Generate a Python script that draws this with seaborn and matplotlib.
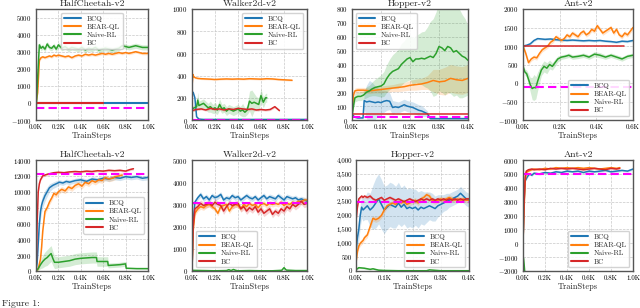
"""
Offline RL learning curves: BCQ / BEAR-QL / Naive-RL / BC on mujoco tasks
Run: python plot.py
"""
import numpy as np
import matplotlib
matplotlib.use("Agg")
import matplotlib.pyplot as plt
from matplotlib.ticker import FuncFormatter, MultipleLocator
import seaborn as sns

LABELS = ["BCQ", "BEAR-QL", "Naive-RL", "BC"]
COLORS = ["#1f77b4", "#ff7f0e", "#2ca02c", "#d62728"]

# ---------- top row: HalfCheetah-v2 ----------
hc1_x = [0, 15, 30, 45, 60, 80, 100, 120, 140, 160, 180, 200, 230, 260, 290, 320, 350, 380, 410, 440,
         470, 500, 530, 560, 590, 620, 650, 680, 710, 740, 770, 800, 830, 860, 890, 920, 950, 980, 1000]
hc1_naive = [-600, 1500, 3400, 3200, 3300, 3150, 3450, 3250, 3200, 3350, 3150, 3400, 3200, 3300, 3150, 3250,
             3200, 3150, 3250, 3100, 3200, 3150, 3250, 3100, 3150, 3200, 3150, 3100, 3150, 3200, 3350, 3300,
             3250, 3300, 3350, 3300, 3250, 3250, 3250]
hc1_bear = [0, 600, 2500, 2650, 2700, 2650, 2700, 2750, 2700, 2800, 2750, 2800, 2750, 2700, 2750, 2650, 2750,
            2800, 2750, 2850, 2800, 2850, 2800, 2850, 2900, 2850, 2900, 2850, 2900, 2950, 2900, 2950, 2900,
            2950, 3000, 2950, 2900, 2900, 2900]
hc1_bcq_x, hc1_bcq = [0, 1000], [0, 0]
hc1_bc_x, hc1_bc = [0, 600], [0, 0]
hc1_ref = -300

# ---------- top row: Walker2d-v2 ----------
wk1_bear_x = [0, 8, 15, 30, 50, 80, 120, 160, 200, 250, 300, 350, 400, 450, 500, 550, 600, 650, 700, 750, 800, 870]
wk1_bear = [300, 410, 390, 380, 375, 372, 370, 368, 365, 368, 370, 368, 370, 368, 372, 370, 368, 372, 370, 365,
            362, 358]
wk1_bcq_x = [0, 10, 25, 40, 60, 100, 1000]
wk1_bcq = [240, 250, 200, 30, 8, 5, 5]
wk1_naive_x = [0, 20, 40, 50, 60, 80, 100, 120, 140, 160, 180, 200, 220, 240, 260, 280, 300, 320, 340, 360,
               380, 400, 420, 440, 460, 480, 500, 520, 540, 560, 580, 600, 620, 640, 650]
wk1_naive = [100, 110, 120, 180, 130, 140, 150, 130, 110, 120, 100, 110, 90, 140, 100, 110, 80, 100, 90, 80,
             90, 100, 80, 90, 70, 90, 170, 150, 160, 150, 140, 220, 160, 200, 200]
wk1_naive_sd = [20, 30, 40, 70, 40, 40, 40, 40, 40, 50, 40, 50, 40, 50, 40, 40, 40, 40, 40, 40,
                40, 40, 40, 60, 40, 40, 90, 120, 80, 60, 60, 60, 50, 40, 40]
wk1_bc_x = [0, 40, 80, 120, 160, 200, 240, 280, 320, 360, 400, 440, 480, 520, 560, 600, 640, 680, 720, 760]
wk1_bc = [85, 95, 100, 90, 105, 95, 100, 90, 100, 95, 105, 100, 95, 100, 90, 95, 90, 95, 120, 85]
wk1_ref = 3

# ---------- top row: Hopper-v2 ----------
hp1_naive_x = [0, 5, 10, 20, 30, 40, 50, 60, 70, 80, 90, 100, 110, 120, 130, 140, 150, 160, 170, 180, 190,
               200, 210, 220, 230, 240, 250, 260, 270, 280, 290, 300, 310, 320, 330, 340, 350, 360, 370, 380,
               390, 400]
hp1_naive = [30, 100, 160, 170, 170, 180, 200, 210, 225, 235, 240, 245, 260, 300, 330, 350, 360, 370, 400, 420,
             440, 450, 420, 440, 440, 445, 440, 450, 460, 450, 480, 530, 520, 500, 530, 520, 490, 500, 480, 460,
             450, 430]
hp1_naive_sd = [10, 20, 30, 30, 30, 30, 40, 40, 50, 60, 70, 80, 90, 100, 110, 120, 130, 140, 150, 150,
                160, 160, 170, 170, 180, 190, 200, 220, 250, 280, 300, 320, 320, 320, 330, 330, 320, 320, 320, 300,
                280, 250]
hp1_bear_x = [0, 5, 10, 20, 40, 60, 80, 100, 120, 140, 160, 180, 200, 220, 240, 260, 280, 300, 320, 340, 360,
              380, 400]
hp1_bear = [30, 180, 210, 215, 215, 210, 215, 220, 225, 230, 235, 240, 250, 255, 260, 270, 285, 275, 280, 300,
            290, 285, 300]
hp1_bear_sd = [10, 20, 20, 20, 20, 20, 20, 25, 25, 25, 30, 30, 35, 40, 40, 50, 80, 90, 100, 100, 100, 100, 100]
hp1_bcq_x = [0, 10, 20, 30, 38, 42, 50, 60, 70, 80, 90, 100, 110, 120, 130, 140, 150, 160, 170, 180, 190, 200,
             210, 220, 230, 240, 250, 260, 270, 280, 400]
hp1_bcq = [40, 20, 15, 15, 15, 140, 130, 135, 130, 125, 130, 125, 135, 140, 135, 90, 95, 90, 100, 110, 100, 95,
           90, 80, 70, 65, 55, 45, 10, 10, 10]
hp1_bcq_sd = [5, 5, 5, 5, 5, 60, 120, 150, 140, 120, 100, 90, 80, 70, 60, 50, 40, 40, 40, 40, 40, 40,
              40, 40, 40, 40, 30, 20, 5, 5, 5]
hp1_bc_x, hp1_bc = [0, 400], [40, 40]
hp1_ref = 20

# ---------- top row: Ant-v2 ----------
an1_bcq_x = [0, 20, 40, 60, 80, 100, 120, 150, 180, 210, 240, 270, 300, 330, 360, 390, 420, 450, 480, 510,
             540, 570, 600]
an1_bcq = [1000, 1020, 1060, 1150, 1200, 1190, 1180, 1190, 1170, 1160, 1150, 1160, 1150, 1140, 1150, 1140,
           1150, 1130, 1120, 1100, 1130, 1120, 1150]
an1_bear_x = [0, 15, 30, 45, 60, 75, 90, 105, 120, 135, 150, 165, 180, 195, 210, 225, 240, 255, 270, 285, 300,
              315, 330, 345, 360, 375, 390, 405, 420, 435, 450, 465, 480, 495, 510, 525, 540, 555, 570, 585, 600]
an1_bear = [1000, 800, 550, 650, 700, 680, 800, 900, 950, 1000, 1100, 1150, 1250, 1200, 1150, 1200, 1300, 1250,
            1350, 1300, 1250, 1350, 1400, 1300, 1350, 1450, 1400, 1550, 1450, 1350, 1400, 1450, 1500, 1350,
            1450, 1300, 1250, 1350, 1300, 1400, 1500]
an1_naive_x = [0, 10, 20, 30, 40, 50, 60, 70, 80, 90, 100, 115, 130, 145, 160, 175, 190, 210, 230, 250, 270,
               300, 330, 360, 390, 420, 450, 480, 510, 540, 570, 600]
an1_naive = [450, 300, 250, 100, -50, -150, -120, -130, 50, 200, 350, 450, 400, 500, 450, 550, 650, 700, 720,
             750, 700, 720, 750, 700, 780, 750, 700, 750, 700, 650, 720, 750]
an1_naive_sd = [80, 80, 100, 150, 200, 300, 350, 300, 250, 200, 150, 150, 150, 120, 100, 100, 80, 60, 60, 60,
                60, 60, 60, 60, 70, 70, 60, 60, 60, 60, 60, 60]
an1_bc_x, an1_bc = [0, 550], [1000, 1000]
an1_ref = -100

# ---------- bottom row: HalfCheetah-v2 ----------
hc2_bc_x = [0, 5, 10, 20, 30, 40, 60, 80, 100, 130, 160, 200, 250, 300, 350, 400, 450, 500, 550, 600, 650,
            700, 750, 800, 840, 870]
hc2_bc = [0, 2000, 6000, 10000, 11000, 11500, 12000, 12100, 12200, 12300, 12400, 12450, 12400, 12500, 12550,
          12500, 12600, 12550, 12650, 12600, 12700, 12650, 12700, 12600, 12800, 12900]
hc2_bcq_x = [0, 10, 20, 30, 40, 50, 60, 80, 100, 120, 150, 180, 210, 240, 270, 300, 350, 400, 450, 500, 550,
             600, 650, 700, 750, 800, 850, 900, 950, 1000]
hc2_bcq = [0, 1000, 3500, 6000, 7500, 8300, 8800, 9500, 10000, 10500, 10800, 11000, 11200, 11100, 11300,
           11200, 11400, 11500, 11300, 11600, 11500, 11700, 11600, 11800, 11700, 11900, 11800, 11900, 11700, 11800]
hc2_bcq_sd = [0, 200, 500, 800, 900, 900, 800, 700, 600, 500, 400, 400, 300, 300, 300, 300, 300, 300, 300,
              300, 300, 300, 300, 300, 300, 300, 300, 300, 300, 300]
hc2_bear_x = [0, 20, 40, 50, 60, 80, 100, 120, 140, 160, 180, 200, 230, 260, 290, 320, 350, 380, 410, 440,
              470, 500, 530, 560, 590, 620, 650, 680, 710, 740, 770]
hc2_bear = [0, 300, 1500, 3000, 5000, 7500, 8000, 8700, 9200, 9800, 9600, 10000, 10300, 10100, 10600, 10400,
            10800, 11000, 10700, 11200, 11000, 11400, 11200, 11500, 11400, 11800, 11600, 11700, 11900, 12000,
            12100]
hc2_naive_x = [0, 20, 40, 60, 80, 100, 120, 135, 150, 165, 200, 250, 300, 350, 400, 450, 500, 540, 545, 600,
               640, 645, 700, 750, 800, 805, 900, 1000]
hc2_naive = [0, 300, 800, 1200, 1500, 1700, 2000, 2200, 1600, 1100, 1100, 1200, 1300, 1500, 1600, 1650, 1700,
             1700, 1200, 1200, 1200, 700, 750, 800, 900, 350, 300, 300]
hc2_naive_sd = [0, 200, 500, 800, 900, 1000, 1000, 1000, 900, 800, 700, 700, 700, 700, 700, 700, 700, 700,
                600, 600, 600, 300, 300, 300, 300, 50, 50, 50]
hc2_ref = 12200

# ---------- bottom row: Walker2d-v2 ----------
wk2_x = [0, 10, 25, 50, 75, 100, 125, 150, 175, 200, 225, 250, 275, 300, 325, 350, 375, 400, 425, 450, 475,
         500, 525, 550, 575, 600, 625, 650, 675, 700, 725, 750, 775, 800, 825, 850, 875, 900, 925, 950, 975, 1000]
wk2_bcq = [0, 2200, 3100, 3300, 3450, 3250, 3350, 3200, 3400, 3300, 3350, 3450, 3200, 3300, 3250, 3400, 3300,
           3350, 3200, 3300, 3400, 3300, 3250, 3350, 3200, 3300, 3400, 3250, 3350, 3300, 3250, 3400, 3300, 3200,
           3350, 3300, 3250, 3300, 3200, 3250, 3200, 3150]
wk2_bear = [0, 1800, 2600, 2800, 2900, 2850, 2950, 3000, 2900, 2800, 2600, 2900, 2950, 3000, 2700, 2900, 3000,
            2950, 2800, 3000, 2900, 3050, 2950, 3000, 2850, 3000, 3050, 2950, 3050, 3000, 3050, 3000, 3100, 2950,
            3050, 3000, 3100, 3050, 3150, 3100, 3200, 3200]
wk2_bc = [0, 2000, 2800, 2900, 3050, 2950, 3000, 3050, 2950, 3100, 3000, 2950, 2700, 2900, 3050, 2950, 3000,
          3050, 2800, 2900, 2700, 2850, 2750, 2900, 2650, 2800, 2600, 2700, 2800, 2550, 2700, 2600, 2800, 2700,
          2900, 2800, 3000, 2900, 3000, 3150, 3000, 3050]
wk2_naive_x = [0, 100, 200, 300, 320, 340, 360, 380, 400, 500, 600, 700, 780, 800, 820, 900, 1000]
wk2_naive = [30, 20, 10, 20, 60, 20, 70, 30, 10, 20, 10, 10, 30, 150, 40, 20, 20]
wk2_ref = 3050

# ---------- bottom row: Hopper-v2 ----------
hp2_x = [0, 5, 10, 15, 20, 25, 30, 40, 50, 60, 70, 80, 90, 100, 110, 120, 130, 140, 150, 160, 170, 180, 190,
         200, 210, 220, 230, 240, 250, 260, 270, 280, 290, 300, 310, 320, 330, 340, 350, 360, 370, 380, 390, 400]
hp2_bcq = [700, 1200, 1500, 2000, 2300, 2200, 2250, 2350, 2200, 2300, 2450, 2600, 2400, 2200, 2300, 2400, 2350,
           2300, 2450, 2300, 2400, 2250, 2300, 2250, 2300, 2200, 2300, 2250, 2300, 2350, 2300, 2250, 2350, 2400,
           2450, 2500, 2550, 2600, 2650, 2700, 2800, 2700, 2600, 2550]
hp2_bcq_sd = [300, 400, 400, 400, 400, 400, 400, 500, 600, 800, 900, 900, 900, 850, 800, 800, 800, 750, 750,
              700, 700, 700, 700, 700, 650, 650, 600, 600, 550, 500, 500, 450, 400, 350, 300, 300, 250, 250, 250,
              250, 250, 250, 250, 250]
hp2_bear = [300, 700, 900, 1000, 1050, 1100, 1200, 1300, 1600, 1900, 1850, 1900, 2000, 2200, 2350, 2400, 2450,
            2400, 2500, 2450, 2500, 2400, 2450, 2500, 2550, 2450, 2600, 2650, 2750, 2700, 2550, 2500, 2550, 2600,
            2550, 2600, 2650, 2600, 2550, 2600, 2550, 2600, 2550, 2550]
hp2_bc = [1800, 2300, 2600, 2650, 2700, 2650, 2700, 2650, 2700, 2600, 2550, 2600, 2650, 2550, 2600, 2650, 2600,
          2550, 2600, 2550, 2500, 2550, 2600, 2550, 2500, 2550, 2600, 2550, 2600, 2550, 2600, 2550, 2600, 2550,
          2600, 2550, 2600, 2550, 2600, 2550, 2600, 2550, 2600, 2600]
hp2_naive_x = [0, 10, 30, 50, 60, 80, 100, 150, 200, 250, 260, 300, 400]
hp2_naive = [50, 120, 100, 60, 80, 30, 20, 10, 10, 10, 40, 10, 10]
hp2_ref = 2500

# ---------- bottom row: Ant-v2 ----------
an2_bcq_x = [0, 10, 20, 40, 60, 80, 100, 150, 200, 250, 300, 350, 400, 450, 500, 550, 600, 650, 700, 750, 800,
             850, 900, 950, 1000]
an2_bcq = [0, 3000, 4500, 4800, 5000, 4900, 5050, 5000, 5100, 5050, 5150, 5100, 5200, 5150, 5200, 5100, 5200,
           5150, 5200, 5250, 5150, 5200, 5250, 5200, 5350]
an2_x = [0, 10, 20, 30, 50, 80, 100, 150, 200, 250, 300, 350, 400, 450, 500, 550, 600, 650, 700, 750, 800, 850, 880]
an2_bear = [0, 2500, 4500, 5100, 5200, 5300, 5350, 5300, 5400, 5350, 5450, 5400, 5450, 5400, 5450, 5400, 5450,
            5400, 5350, 5400, 5450, 5400, 5450]
an2_bc = [0, 3000, 4800, 5200, 5300, 5350, 5300, 5350, 5300, 5400, 5350, 5400, 5350, 5400, 5350, 5300, 5350,
          5400, 5350, 5300, 5400, 5350, 5400]
an2_naive_x = [0, 5, 10, 15, 20]
an2_naive = [-1000, -1100, -1500, -2000, -2500]
an2_ref = 5000

sns.set_style("whitegrid")
plt.rcParams["font.family"] = ["serif"]
plt.rcParams["font.serif"] = ["cmr10", "DejaVu Serif"]
plt.rcParams["mathtext.fontset"] = "cm"
plt.rcParams["axes.formatter.use_mathtext"] = True
plt.rcParams["axes.unicode_minus"] = True


def curve(ax, x, y, color, label=None, sd=None, lw=1.1):
    if sd is not None:
        y_arr, sd_arr = np.asarray(y, float), np.asarray(sd, float)
        ax.fill_between(x, y_arr - sd_arr, y_arr + sd_arr, color=color, alpha=0.2, lw=0)
    sns.lineplot(x=x, y=y, ax=ax, color=color, lw=lw, label=label, estimator=None, sort=False)


def style(ax, title, xmax, xstep, ylim, ystep, legend_loc, comma=False):
    ax.set_title(title, fontsize=7, pad=2)
    ax.set_xlim(0, xmax)
    ax.set_ylim(*ylim)
    ax.xaxis.set_major_locator(MultipleLocator(xstep))
    ax.yaxis.set_major_locator(MultipleLocator(ystep))
    ax.xaxis.set_major_formatter(FuncFormatter(lambda v, p: f"{v / 1000:.1f}K"))
    if comma:
        ax.yaxis.set_major_formatter(FuncFormatter(lambda v, p: f"{int(v):,}"))
    ax.set_xlabel("TrainSteps", fontsize=6, labelpad=1)
    ax.set_ylabel("")
    ax.tick_params(labelsize=5, length=2, width=0.6, pad=1, colors="#333333", labelcolor="black")
    ax.grid(True, color="#c8c8c8", ls="--", lw=0.5)
    for s in ax.spines.values():
        s.set_edgecolor("#555555")
        s.set_linewidth(1.0)
    handles, labels = ax.get_legend_handles_labels()
    order = [labels.index(l) for l in LABELS]
    leg = ax.legend([handles[i] for i in order], LABELS, loc=legend_loc, fontsize=5.2,
                    handlelength=2.3, borderpad=0.4, labelspacing=0.3, handletextpad=0.8,
                    framealpha=0.85, edgecolor="#cccccc", fancybox=True)
    for h in leg.get_lines():
        h.set_linewidth(1.5)


fig = plt.figure(figsize=(6.4, 3.08), dpi=100)
W, H = 640.0, 308.0


def axes_px(x0, x1, y0, y1):
    return fig.add_axes([x0 / W, 1 - y1 / H, (x1 - x0) / W, (y1 - y0) / H])


b, o, g, r = COLORS
mag = "#ff00ff"

# top row
ax = axes_px(36, 148, 9, 120)
curve(ax, hc1_bcq_x, hc1_bcq, b, "BCQ", lw=1.5)
curve(ax, hc1_x, hc1_bear, o, "BEAR-QL", sd=[80] * len(hc1_x))
curve(ax, hc1_x, hc1_naive, g, "Naive-RL", sd=[150] * len(hc1_x))
curve(ax, hc1_bc_x, hc1_bc, r, "BC", lw=1.5)
ax.axhline(hc1_ref, color=mag, ls="--", lw=1.5, dashes=(4, 2))
style(ax, "HalfCheetah-v2", 1000, 200, (-1000, 5500), 1000, "upper center")

ax = axes_px(192, 307, 9, 120)
curve(ax, wk1_bcq_x, wk1_bcq, b, "BCQ")
curve(ax, wk1_bear_x, wk1_bear, o, "BEAR-QL", sd=[8] * len(wk1_bear_x))
curve(ax, wk1_naive_x, wk1_naive, g, "Naive-RL", sd=wk1_naive_sd)
curve(ax, wk1_bc_x, wk1_bc, r, "BC", sd=[10] * len(wk1_bc_x))
ax.axhline(wk1_ref, color=mag, ls="--", lw=1.5, dashes=(4, 2))
style(ax, "Walker2d-v2", 1000, 200, (0, 1000), 200, "upper right")

ax = axes_px(352, 468, 9, 120)
curve(ax, hp1_bcq_x, hp1_bcq, b, "BCQ", sd=hp1_bcq_sd)
curve(ax, hp1_bear_x, hp1_bear, o, "BEAR-QL", sd=hp1_bear_sd)
curve(ax, hp1_naive_x, hp1_naive, g, "Naive-RL", sd=hp1_naive_sd)
curve(ax, hp1_bc_x, hp1_bc, r, "BC")
ax.axhline(hp1_ref, color=mag, ls="--", lw=1.5, dashes=(4, 2))
style(ax, "Hopper-v2", 400, 100, (0, 800), 100, "upper left")

ax = axes_px(523, 633, 9, 120)
curve(ax, an1_bcq_x, an1_bcq, b, "BCQ", sd=[30] * len(an1_bcq_x))
curve(ax, an1_bear_x, an1_bear, o, "BEAR-QL", sd=[60] * len(an1_bear_x))
curve(ax, an1_naive_x, an1_naive, g, "Naive-RL", sd=an1_naive_sd)
curve(ax, an1_bc_x, an1_bc, r, "BC")
ax.axhline(an1_ref, color=mag, ls="--", lw=1.5, dashes=(4, 2))
style(ax, "Ant-v2", 600, 200, (-1000, 2000), 500, "lower right")

# bottom row
ax = axes_px(36, 148, 160, 271)
curve(ax, hc2_bcq_x, hc2_bcq, b, "BCQ", sd=hc2_bcq_sd)
curve(ax, hc2_bear_x, hc2_bear, o, "BEAR-QL", sd=[350] * len(hc2_bear_x))
curve(ax, hc2_naive_x, hc2_naive, g, "Naive-RL", sd=hc2_naive_sd)
curve(ax, hc2_bc_x, hc2_bc, r, "BC", sd=[150] * len(hc2_bc_x))
ax.axhline(hc2_ref, color=mag, ls="--", lw=1.5, dashes=(4, 2))
style(ax, "HalfCheetah-v2", 1000, 200, (0, 14000), 2000, "center right")

ax = axes_px(192, 307, 160, 271)
curve(ax, wk2_x, wk2_bcq, b, "BCQ", sd=[120] * len(wk2_x))
curve(ax, wk2_x, wk2_bear, o, "BEAR-QL", sd=[120] * len(wk2_x))
curve(ax, wk2_naive_x, wk2_naive, g, "Naive-RL", sd=[30] * len(wk2_naive_x))
curve(ax, wk2_x, wk2_bc, r, "BC", sd=[150] * len(wk2_x))
ax.axhline(wk2_ref, color=mag, ls="--", lw=1.5, dashes=(4, 2))
style(ax, "Walker2d-v2", 1000, 200, (0, 5000), 1000, "lower left")

ax = axes_px(356, 469, 160, 271)
curve(ax, hp2_x, hp2_bcq, b, "BCQ", sd=hp2_bcq_sd)
curve(ax, hp2_x, hp2_bear, o, "BEAR-QL", sd=[100] * len(hp2_x))
curve(ax, hp2_naive_x, hp2_naive, g, "Naive-RL", sd=[30] * len(hp2_naive_x))
curve(ax, hp2_x, hp2_bc, r, "BC", sd=[60] * len(hp2_x))
ax.axhline(hp2_ref, color=mag, ls="--", lw=1.5, dashes=(4, 2))
style(ax, "Hopper-v2", 400, 100, (0, 4000), 500, "lower right", comma=True)

ax = axes_px(523, 633, 160, 271)
curve(ax, an2_bcq_x, an2_bcq, b, "BCQ", sd=[80] * len(an2_bcq_x))
curve(ax, an2_x, an2_bear, o, "BEAR-QL", sd=[60] * len(an2_x))
curve(ax, an2_naive_x, an2_naive, g, "Naive-RL")
curve(ax, an2_x, an2_bc, r, "BC", sd=[60] * len(an2_x))
ax.axhline(an2_ref, color=mag, ls="--", lw=1.5, dashes=(4, 2))
style(ax, "Ant-v2", 1000, 200, (-2000, 6000), 1000, "lower right")

fig.text(0.003, 0.0, "Figure 1:", fontsize=7, va="bottom", ha="left")

fig.savefig("out.png", dpi=100)
